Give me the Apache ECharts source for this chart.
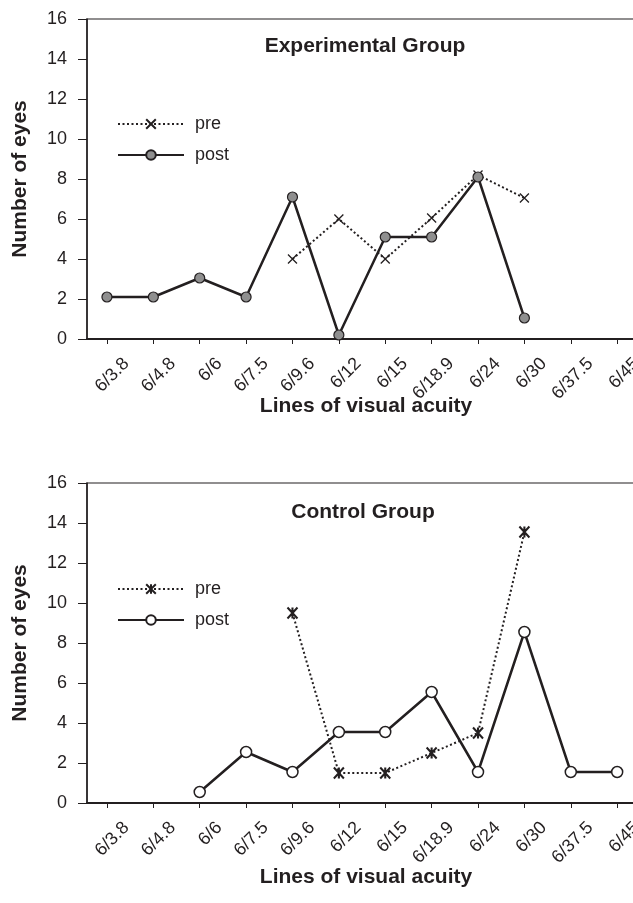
<!DOCTYPE html>
<html>
<head>
<meta charset="utf-8">
<script src="https://cdn.jsdelivr.net/npm/echarts@6/dist/echarts.min.js"></script>
<style>
html,body{margin:0;padding:0;background:#fff;}
#chart{width:633px;height:903px;}
</style>
</head>
<body>
<div id="chart"></div>
<script>
// ---- data ----
var categories = ['6/3.8','6/4.8','6/6','6/7.5','6/9.6','6/12','6/15','6/18.9','6/24','6/30','6/37.5','6/45'];
var yTicks = [0, 2, 4, 6, 8, 10, 12, 14, 16];
var expPre  = [null, null, null, null, 4, 6, 4, 6.05, 8.2, 7.05, null, null];
var expPost = [2.1, 2.1, 3.05, 2.1, 7.1, 0.2, 5.1, 5.1, 8.1, 1.05, null, null];
var ctrlPre  = [null, null, null, null, 9.5, 1.5, 1.5, 2.5, 3.5, 13.55, null, null];
var ctrlPost = [null, null, 0.55, 2.55, 1.55, 3.55, 3.55, 5.55, 1.55, 8.55, 1.55, 1.55];
var titles = ['Experimental Group', 'Control Group'];
var xName = 'Lines of visual acuity';
var yName = 'Number of eyes';

// ---- styling / layout ----
var ink = '#231f20';
var font = 'Liberation Sans, Arial, sans-serif';
var labelShift = 0.42;
function pairs(arr){ return arr.map(function(v,i){ return [i, v]; }); }
var tickPos = categories.map(function(c,i){ return i; });
var labelPos = categories.map(function(c,i){ return i + labelShift; });

function xAxis(idx, gap){
  return {
    type:'value', gridIndex:idx, min:-0.43, max:11.6,
    axisLine:{show:true, onZero:false, lineStyle:{color:ink, width:2}},
    axisTick:{show:true, customValues:tickPos, length:5, lineStyle:{color:ink, width:1}},
    axisLabel:{customValues:labelPos, rotate:45, margin:22, fontSize:18, color:ink, fontFamily:font,
      hideOverlap:false,
      formatter:function(v){ return categories[Math.round(v - labelShift)]; }},
    splitLine:{show:false},
    name:xName, nameLocation:'middle', nameGap:gap, nameMoveOverlap:false,
    nameTextStyle:{fontSize:21, fontWeight:'bold', color:ink, fontFamily:font}
  };
}
function yAxis(idx){
  return {
    type:'value', gridIndex:idx, min:yTicks[0], max:yTicks[yTicks.length-1], interval:2,
    axisLine:{show:true, onZero:false, lineStyle:{color:ink, width:1.5}},
    axisTick:{show:true, length:9, lineStyle:{color:ink, width:1}},
    axisLabel:{margin:20, fontSize:18, color:ink, fontFamily:font},
    splitLine:{show:false},
    name:yName, nameLocation:'middle', nameGap:56, nameRotate:90, nameMoveOverlap:false,
    nameTextStyle:{fontSize:21, fontWeight:'bold', color:ink, fontFamily:font}
  };
}
var crossPath = 'path://M0,0L10,10M10,0L0,10';
var starPath = 'path://M0,0L10,12M10,0L0,12M5,0L5,12';
function legendCfg(names, top){
  return {
    data:names, orient:'vertical', left:112, top:top,
    itemWidth:66, itemHeight:12, itemGap:13,
    formatter:function(n){ return n.split(' ')[1]; },
    textStyle:{fontSize:18, color:ink, fontFamily:font, padding:[0,0,0,6]}
  };
}

var option = {
  animation:false,
  backgroundColor:'#fff',
  title:[
    {text:titles[0], left:360, top:31, textAlign:'center', textStyle:{fontSize:21, fontWeight:'bold', color:ink, fontFamily:font}},
    {text:titles[1], left:358, top:497, textAlign:'center', textStyle:{fontSize:21, fontWeight:'bold', color:ink, fontFamily:font}}
  ],
  legend:[
    legendCfg(['Experimental pre','Experimental post'], 110),
    legendCfg(['Control pre','Control post'], 575)
  ],
  grid:[
    {left:87, top:19, width:558, height:320, show:true, borderColor:ink, borderWidth:1.2, outerBoundsMode:'none', containLabel:false},
    {left:87, top:483, width:558, height:320, show:true, borderColor:ink, borderWidth:1.2, outerBoundsMode:'none', containLabel:false}
  ],
  xAxis:[xAxis(0, 57), xAxis(1, 64)],
  yAxis:[yAxis(0), yAxis(1)],
  series:[
    {name:'Experimental pre', type:'line', xAxisIndex:0, yAxisIndex:0, data:pairs(expPre),
     symbol:crossPath, symbolSize:9, z:2,
     lineStyle:{type:[2,2.5], width:2, color:ink},
     itemStyle:{color:ink, borderColor:ink, borderWidth:1.3}},
    {name:'Experimental post', type:'line', xAxisIndex:0, yAxisIndex:0, data:pairs(expPost),
     symbol:'circle', symbolSize:10, z:3,
     lineStyle:{width:2.5, color:ink},
     itemStyle:{color:'#8f8f8f', borderColor:ink, borderWidth:1.2}},
    {name:'Control pre', type:'line', xAxisIndex:1, yAxisIndex:1, data:pairs(ctrlPre),
     symbol:starPath, symbolSize:[10,11], z:2,
     lineStyle:{type:[2,2.5], width:2, color:ink},
     itemStyle:{color:ink, borderColor:ink, borderWidth:2.2}},
    {name:'Control post', type:'line', xAxisIndex:1, yAxisIndex:1, data:pairs(ctrlPost),
     symbol:'circle', symbolSize:11, z:3,
     lineStyle:{width:2.5, color:ink},
     itemStyle:{color:'#fff', borderColor:ink, borderWidth:1.5}}
  ]
};
var chart = echarts.init(document.getElementById('chart'), null, {renderer:'canvas'});
chart.setOption(option);
</script>
</body>
</html>
